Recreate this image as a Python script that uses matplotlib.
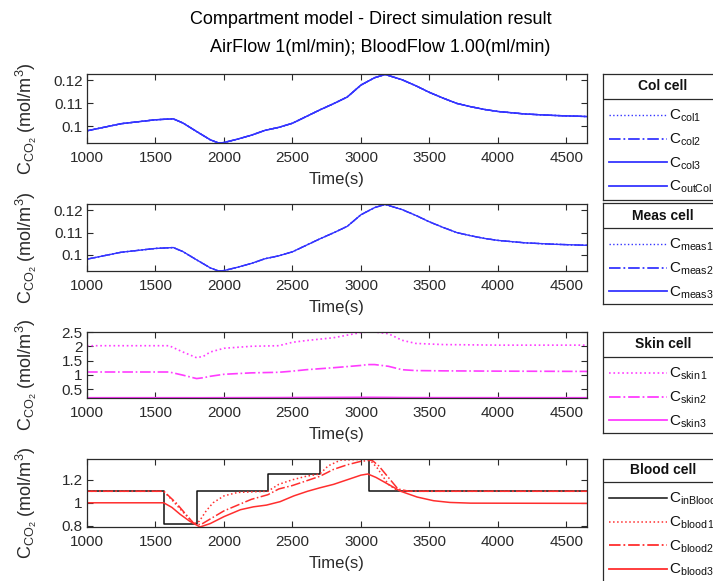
import matplotlib
matplotlib.use("Agg")
import matplotlib.pyplot as plt

plt.rcParams['font.family'] = ['Liberation Sans', 'DejaVu Sans']
plt.rcParams['mathtext.fontset'] = 'custom'
plt.rcParams['mathtext.rm'] = 'Liberation Sans'
plt.rcParams['mathtext.it'] = 'Liberation Sans:italic'
plt.rcParams['mathtext.bf'] = 'Liberation Sans:bold'

# Collection / measurement cell concentration (mol/m^3)
t_col = [1000, 1250, 1500, 1630, 1700, 1800, 1900, 1960, 2000, 2100, 2200,
         2300, 2400, 2500, 2600, 2700, 2800, 2900, 3000, 3100, 3177, 3300,
         3400, 3500, 3600, 3700, 3800, 3900, 4000, 4200, 4400, 4650]
c_col = [0.0981, 0.1012, 0.1029, 0.1033, 0.1015, 0.0978, 0.0942, 0.0928,
         0.0930, 0.0945, 0.0962, 0.0983, 0.0996, 0.1014, 0.1043, 0.1072,
         0.1099, 0.1128, 0.1180, 0.1212, 0.1226, 0.1203, 0.1177, 0.1148,
         0.1123, 0.1100, 0.1086, 0.1074, 0.1065, 0.1054, 0.1048, 0.1043]
c_meas = list(c_col)

# Skin cell
t_skin = [1000, 1300, 1600, 1700, 1800, 1850, 1900, 2000, 2200, 2400, 2500,
          2600, 2800, 3000, 3050, 3100, 3200, 3300, 3400, 3600, 4000, 4650]
c_skin1 = [2.02, 2.02, 2.02, 1.80, 1.60, 1.65, 1.80, 1.93, 2.00, 2.02, 2.14,
           2.20, 2.30, 2.48, 2.50, 2.50, 2.44, 2.21, 2.10, 2.06, 2.04, 2.04]
c_skin2 = [1.10, 1.10, 1.10, 0.99, 0.87, 0.90, 0.95, 1.02, 1.07, 1.09, 1.13,
           1.18, 1.25, 1.33, 1.36, 1.36, 1.30, 1.18, 1.15, 1.14, 1.13, 1.12]
c_skin3 = [0.200, 0.200, 0.200, 0.200, 0.199, 0.199, 0.200, 0.201, 0.203,
           0.205, 0.207, 0.209, 0.212, 0.215, 0.215, 0.214, 0.211, 0.206,
           0.204, 0.202, 0.201, 0.200]

# Blood cell: inlet concentration is a step profile
t_in = [1000, 1560, 1800, 2320, 2700, 3060, 4650]
c_in = [1.10, 0.82, 1.10, 1.25, 1.38, 1.10, 1.10]

t_b1 = [1000, 1560, 1600, 1700, 1780, 1820, 1870, 1920, 2000, 2100, 2320,
        2400, 2500, 2600, 2700, 2760, 2850, 3060, 3120, 3200, 3260, 3350,
        3500, 4650]
c_b1 = [1.10, 1.10, 1.05, 0.92, 0.82, 0.84, 0.93, 1.00, 1.06, 1.09, 1.10,
        1.16, 1.20, 1.23, 1.25, 1.32, 1.37, 1.38, 1.30, 1.16, 1.11, 1.10,
        1.10, 1.10]
t_b2 = [1000, 1560, 1650, 1700, 1780, 1830, 1900, 2000, 2120, 2200, 2320,
        2400, 2500, 2600, 2700, 2800, 2900, 3000, 3080, 3130, 3200, 3270,
        3350, 3500, 4650]
c_b2 = [1.10, 1.10, 1.00, 0.93, 0.82, 0.81, 0.86, 0.93, 0.99, 1.03, 1.07,
        1.12, 1.15, 1.19, 1.23, 1.29, 1.33, 1.36, 1.37, 1.32, 1.22, 1.12,
        1.10, 1.10, 1.10]
t_b3 = [1000, 1560, 1620, 1680, 1750, 1825, 1900, 2000, 2120, 2215, 2310,
        2410, 2510, 2610, 2700, 2800, 2900, 3000, 3050, 3110, 3170, 3290,
        3410, 3530, 3650, 3800, 4650]
c_b3 = [1.00, 1.00, 0.96, 0.90, 0.84, 0.79, 0.82, 0.88, 0.94, 0.965, 0.98,
        1.01, 1.06, 1.10, 1.13, 1.16, 1.20, 1.24, 1.25, 1.22, 1.18, 1.10,
        1.05, 1.018, 1.003, 0.997, 0.995]

W, H = 713, 581
fig = plt.figure(figsize=(W / 100, H / 100), dpi=100)

fig.text(371 / W, 1 - 20 / H, 'Compartment model - Direct simulation result',
         ha='center', va='center', fontsize=13)
fig.text(380 / W, 1 - 47 / H, 'AirFlow 1(ml/min); BloodFlow 1.00(ml/min)',
         ha='center', va='center', fontsize=13)

BLUE = '#3535ff'
MAG = '#ff3cff'
RED = '#ff2e2e'
INK = '#2a2a2a'


def make_axes(top, bottom):
    ax = fig.add_axes([87 / W, 1 - bottom / H, 500 / W, (bottom - top) / H])
    ax.set_xlim(1000, 4650)
    ax.set_xticks(range(1000, 4501, 500))
    ax.tick_params(direction='in', top=True, right=True, length=4,
                   width=0.8, labelsize=11, colors=INK)
    ax.tick_params(axis='x', pad=6)
    ax.tick_params(axis='y', pad=3)
    for s in ax.spines.values():
        s.set_color(INK)
        s.set_linewidth(0.9)
    ax.set_xlabel('Time(s)', fontsize=12, color=INK, labelpad=5)
    ax.set_ylabel(r'C$_{\mathrm{CO}_2}$ (mol/m$^3$)', fontsize=13, color=INK)
    ax.yaxis.set_label_coords(-0.095, 0.35)
    return ax


def legend_box(top, sep, bottom, title, entries):
    lx = fig.add_axes([603 / W, 1 - bottom / H, 124 / W, (bottom - top) / H])
    lx.set_xlim(0, 124)
    lx.set_ylim(bottom - top, 0)
    lx.set_xticks([])
    lx.set_yticks([])
    for s in lx.spines.values():
        s.set_color(INK)
        s.set_linewidth(0.9)
    lx.axhline(sep - top, color=INK, lw=0.9)
    lx.text(60, (sep - top) / 2, title, ha='center', va='center',
            fontsize=10, fontweight='bold', color='#111111')
    y = sep - top + 16
    for label, style in entries:
        lx.plot([6, 64], [y, y], **style)
        lx.text(66, y + 1, label, ha='left', va='center', fontsize=11,
                color='#111111')
        y += 23.7


# Col cell
ax1 = make_axes(74, 143)
ax1.plot(t_col, c_col, ':', color=BLUE, lw=1)
ax1.plot(t_col, c_col, '-.', color=BLUE, lw=1)
ax1.plot(t_col, c_col, '-', color=BLUE, lw=1)
ax1.plot(t_col, c_col, '-', color=BLUE, lw=1)
ax1.set_ylim(0.0928, 0.1228)
ax1.set_yticks([0.1, 0.11, 0.12])
ax1.set_yticklabels(['0.1', '0.11', '0.12'])
legend_box(74, 99, 200, 'Col cell', [
    (r'C$_{\mathrm{col1}}$', dict(color=BLUE, ls=':', lw=1)),
    (r'C$_{\mathrm{col2}}$', dict(color=BLUE, ls='-.', lw=1.3)),
    (r'C$_{\mathrm{col3}}$', dict(color=BLUE, ls='-', lw=1.3)),
    (r'C$_{\mathrm{outCol}}$', dict(color=BLUE, ls='-', lw=1.3)),
])

# Meas cell
ax2 = make_axes(204, 271)
ax2.plot(t_col, c_meas, ':', color=BLUE, lw=1)
ax2.plot(t_col, c_meas, '-.', color=BLUE, lw=1)
ax2.plot(t_col, c_meas, '-', color=BLUE, lw=1)
ax2.set_ylim(0.0928, 0.1228)
ax2.set_yticks([0.1, 0.11, 0.12])
ax2.set_yticklabels(['0.1', '0.11', '0.12'])
legend_box(203, 228, 304, 'Meas cell', [
    (r'C$_{\mathrm{meas1}}$', dict(color=BLUE, ls=':', lw=1)),
    (r'C$_{\mathrm{meas2}}$', dict(color=BLUE, ls='-.', lw=1.3)),
    (r'C$_{\mathrm{meas3}}$', dict(color=BLUE, ls='-', lw=1.3)),
])

# Skin cell
ax3 = make_axes(332, 398)
ax3.plot(t_skin, c_skin1, ':', color=MAG, lw=1.2)
ax3.plot(t_skin, c_skin2, '-.', color=MAG, lw=1.2)
ax3.plot(t_skin, c_skin3, '-', color=MAG, lw=1.2)
ax3.set_ylim(0.19, 2.5)
ax3.set_yticks([0.5, 1, 1.5, 2, 2.5])
ax3.set_yticklabels(['0.5', '1', '1.5', '2', '2.5'])
legend_box(332, 357, 433, 'Skin cell', [
    (r'C$_{\mathrm{skin\,1}}$', dict(color=MAG, ls=':', lw=1.2)),
    (r'C$_{\mathrm{skin2}}$', dict(color=MAG, ls='-.', lw=1.3)),
    (r'C$_{\mathrm{skin3}}$', dict(color=MAG, ls='-', lw=1.3)),
])

# Blood cell
ax4 = make_axes(459, 527)
ax4.plot(t_in, c_in, '-', color='#111111', lw=1.1, drawstyle='steps-post')
ax4.plot(t_b1, c_b1, ':', color=RED, lw=1.1)
ax4.plot(t_b2, c_b2, '-.', color=RED, lw=1.1)
ax4.plot(t_b3, c_b3, '-', color=RED, lw=1.1)
ax4.set_ylim(0.79, 1.38)
ax4.set_yticks([0.8, 1, 1.2])
ax4.set_yticklabels(['0.8', '1', '1.2'])
legend_box(459, 482, 585, 'Blood cell', [
    (r'C$_{\mathrm{inBlood}}$', dict(color='#111111', ls='-', lw=1.1)),
    (r'C$_{\mathrm{blood\,1}}$', dict(color=RED, ls=':', lw=1.1)),
    (r'C$_{\mathrm{blood2}}$', dict(color=RED, ls='-.', lw=1.3)),
    (r'C$_{\mathrm{blood3}}$', dict(color=RED, ls='-', lw=1.3)),
])

fig.savefig('out.png', dpi=100)
